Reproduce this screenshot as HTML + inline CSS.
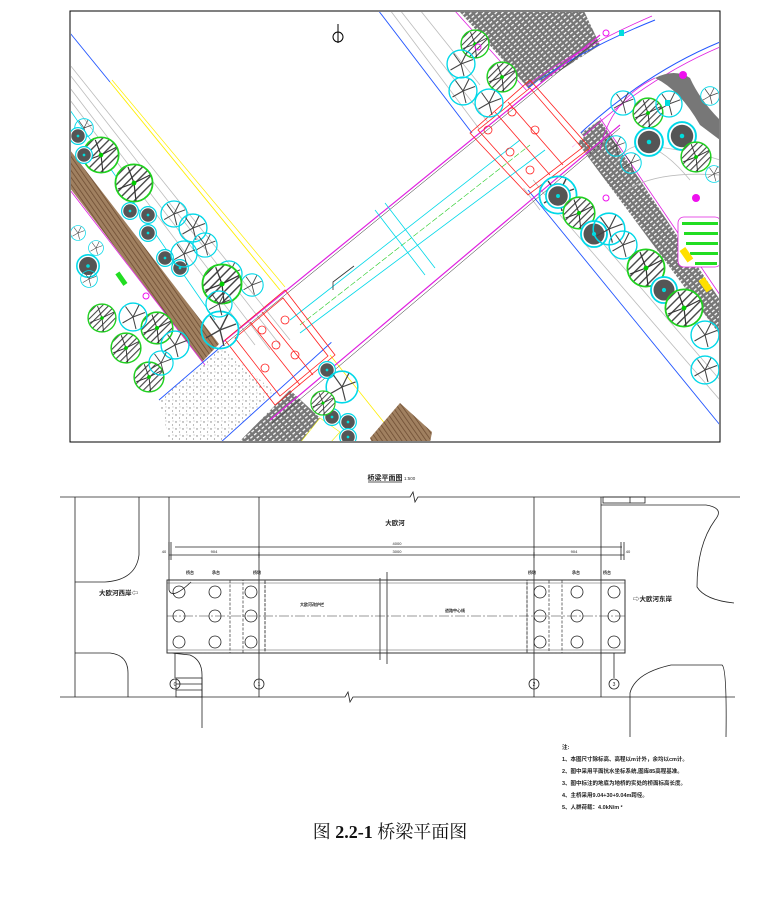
<!DOCTYPE html>
<html><head><meta charset="utf-8"><style>
html,body{margin:0;padding:0;background:#fff;}
svg{display:block}
text{font-family:"Liberation Sans","Noto Sans CJK SC",sans-serif;}
.cap{font-family:"Liberation Serif","Noto Serif CJK SC",serif;}
</style></head><body>
<svg width="781" height="917" viewBox="0 0 781 917" xmlns="http://www.w3.org/2000/svg">
<defs>
<pattern id="hatch" width="3" height="3" patternUnits="userSpaceOnUse" patternTransform="rotate(45)"><rect width="3" height="3" fill="#fff"/><line x1="0" y1="0" x2="0" y2="3" stroke="#444" stroke-width="1.4"/></pattern>
<pattern id="brown" width="4" height="4" patternUnits="userSpaceOnUse" patternTransform="rotate(-35)"><rect width="4" height="4" fill="#a08060"/><line x1="0" y1="0" x2="0" y2="4" stroke="#6b4a30" stroke-width="1.5"/></pattern>
<pattern id="cross" width="5" height="4" patternUnits="userSpaceOnUse" patternTransform="rotate(-40)"><rect width="5" height="4" fill="#777"/><rect x="0" y="0" width="3" height="1.3" fill="#fff"/></pattern>
<pattern id="dots" width="7" height="7" patternUnits="userSpaceOnUse"><circle cx="1" cy="2" r="0.7" fill="#777"/><circle cx="4.5" cy="5" r="0.6" fill="#888"/><circle cx="5" cy="1" r="0.5" fill="#999"/></pattern>
<symbol id="sp" viewBox="-10 -10 20 20"><circle r="9.3" fill="none" stroke="#00d8e8" stroke-width="0.9"/><g stroke="#444" stroke-width="0.7"><line x1="0" y1="0" x2="8" y2="-3"/><line x1="0" y1="0" x2="2" y2="8"/><line x1="0" y1="0" x2="-7" y2="4"/><line x1="0" y1="0" x2="-5" y2="-7"/><line x1="0" y1="0" x2="4" y2="-8"/></g></symbol>
<symbol id="hg" viewBox="-10 -10 20 20"><circle r="9.3" fill="url(#hatch)" stroke="#20d020" stroke-width="0.9"/><g stroke="#333" stroke-width="0.6"><line x1="0" y1="0" x2="8" y2="-4"/><line x1="0" y1="0" x2="1" y2="9"/><line x1="0" y1="0" x2="-8" y2="3"/><line x1="0" y1="0" x2="-3" y2="-8"/></g><circle r="1.2" fill="#0c0"/></symbol>
<symbol id="dk" viewBox="-10 -10 20 20"><circle r="9.3" fill="#fff" stroke="#00d8e8" stroke-width="1.3"/><circle r="7.5" fill="#555"/><circle r="1.5" fill="#0dd"/></symbol>
</defs>

<rect x="70" y="11" width="650" height="431" fill="#fff" stroke="#000" stroke-width="1"/>
<clipPath id="c1"><rect x="71" y="12" width="648" height="429"/></clipPath>
<g clip-path="url(#c1)">
<g stroke="#bbb" stroke-width="0.8" fill="none">
<line x1="70" y1="65" x2="290" y2="340"/><line x1="70" y1="75" x2="280" y2="345"/><line x1="70" y1="88" x2="270" y2="350"/>
<line x1="70" y1="100" x2="255" y2="345"/>
</g>
<line x1="70" y1="33" x2="110" y2="82" stroke="#2255ff" stroke-width="0.9"/>
<line x1="110" y1="82" x2="280" y2="290" stroke="#ffee00" stroke-width="0.9"/>
<line x1="112" y1="80" x2="285" y2="287" stroke="#ffee00" stroke-width="0.7"/>
<line x1="70" y1="110" x2="215" y2="320" stroke="#00d8e8" stroke-width="0.8"/>
<polygon points="70,150 70,188 202,362 219,344" fill="url(#brown)"/>
<line x1="70" y1="190" x2="205" y2="365" stroke="#e020e0" stroke-width="0.8"/>
<polygon points="159,400 223,347 275,393 219,443 170,443" fill="url(#dots)"/>
<line x1="159" y1="400" x2="223" y2="345" stroke="#2255ff" stroke-width="0.9"/>
<polygon points="238,443 290,390 320,418 300,443" fill="url(#cross)"/>
<polygon points="300,443 320,418 340,432 330,443" fill="#fff" stroke="#ee0" stroke-width="0.6"/>
<line x1="220" y1="443" x2="345" y2="330" stroke="#2255ff" stroke-width="0.9"/>
<line x1="330" y1="355" x2="390" y2="430" stroke="#ffee00" stroke-width="0.8"/>
<polygon points="370,438 400,403 432,432 430,443 372,443" fill="url(#brown)"/>

<g stroke="#bbb" stroke-width="0.8" fill="none">
<line x1="390" y1="10" x2="540" y2="210"/><line x1="400" y1="10" x2="545" y2="195"/><line x1="420" y1="10" x2="480" y2="85"/>
<line x1="560" y1="215" x2="720" y2="400"/><line x1="570" y1="205" x2="720" y2="380"/>
</g>
<line x1="378" y1="10" x2="472" y2="133" stroke="#2255ff" stroke-width="0.9"/>
<line x1="528" y1="190" x2="720" y2="425" stroke="#2255ff" stroke-width="0.9"/>
<polygon points="459,11 584,11 600,45 530,90" fill="url(#cross)"/>
<line x1="455" y1="11" x2="528" y2="92" stroke="#e020e0" stroke-width="0.8"/>
<polygon points="574,138 600,120 720,300 720,335" fill="url(#cross)"/>
<line x1="600" y1="118" x2="720" y2="295" stroke="#e020e0" stroke-width="0.8"/>
<path d="M528,88 Q580,50 655,20" stroke="#2255ff" stroke-width="1" fill="none"/>
<path d="M526,86 Q578,48 652,16" stroke="#e020e0" stroke-width="0.8" fill="none"/>
<path d="M570,143 Q640,75 720,42" stroke="#2255ff" stroke-width="1" fill="none"/>
<path d="M572,147 Q642,80 720,47" stroke="#e020e0" stroke-width="0.8" fill="none"/>
<path d="M655,78 Q680,90 700,125 L720,140 L720,120 Q700,100 690,78 Q675,68 655,78Z" fill="#777"/>
<path d="M620,195 Q650,170 720,175 M615,165 Q640,120 690,180 M640,145 Q690,150 720,160" stroke="#bbb" stroke-width="0.8" fill="none"/>
<path d="M600,150 Q610,100 655,78" stroke="#e020e0" stroke-width="0.8" fill="none"/>
<rect x="678" y="217" width="43" height="50" rx="6" fill="#fff" stroke="#e020e0" stroke-width="0.8"/>
<g fill="#22dd22"><rect x="682" y="222" width="36" height="3"/><rect x="684" y="232" width="34" height="3"/><rect x="686" y="242" width="32" height="3"/><rect x="690" y="252" width="28" height="3"/><rect x="695" y="262" width="22" height="3"/></g>
<rect x="683" y="248" width="7" height="14" fill="#ffe000" transform="rotate(-35 686 255)"/>
<rect x="702" y="278" width="7" height="14" fill="#ffe000" transform="rotate(-35 705 285)"/>

<polygon points="287,285 539,80 584,137 335,347" fill="#fff"/>
<line x1="223" y1="342" x2="600" y2="35" stroke="#e020e0" stroke-width="1.2"/>
<line x1="225" y1="344" x2="600" y2="38" stroke="#222" stroke-width="0.5"/>
<line x1="270" y1="420" x2="620" y2="125" stroke="#e020e0" stroke-width="1.2"/>
<line x1="272" y1="423" x2="620" y2="128" stroke="#222" stroke-width="0.5"/>
<line x1="290" y1="320" x2="520" y2="140" stroke="#00d8e8" stroke-width="0.8"/>
<line x1="300" y1="333" x2="545" y2="150" stroke="#00d8e8" stroke-width="0.8"/>
<line x1="300" y1="325" x2="530" y2="145" stroke="#22cc22" stroke-width="0.6" stroke-dasharray="6,2"/>
<line x1="375" y1="210" x2="425" y2="275" stroke="#00d8e8" stroke-width="0.8"/>
<line x1="385" y1="203" x2="435" y2="268" stroke="#00d8e8" stroke-width="0.8"/>
<polyline points="333,290 333,282 354,266" fill="none" stroke="#333" stroke-width="0.8"/>
<g stroke="#ff2020" stroke-width="0.8" fill="none">
<polygon points="225,340 285,290 335,355 275,405"/>
<polygon points="235,338 283,298 328,356 280,396"/>
<line x1="250" y1="322" x2="300" y2="385"/><line x1="262" y1="312" x2="313" y2="375"/>
<circle cx="262" cy="330" r="4"/><circle cx="276" cy="345" r="4"/><circle cx="295" cy="355" r="4"/><circle cx="265" cy="368" r="4"/><circle cx="285" cy="320" r="4"/>
<polygon points="470,133 530,80 590,148 528,195"/>
<polygon points="478,130 530,88 582,148 530,188"/>
<line x1="495" y1="112" x2="550" y2="175"/><line x1="508" y1="102" x2="563" y2="165"/>
<circle cx="488" cy="130" r="4"/><circle cx="510" cy="152" r="4"/><circle cx="530" cy="170" r="4"/><circle cx="535" cy="130" r="4"/><circle cx="512" cy="112" r="4"/>
</g>
<circle cx="338" cy="37" r="5" fill="#fff" stroke="#000" stroke-width="1"/><line x1="338" y1="24" x2="338" y2="43" stroke="#000" stroke-width="1"/>

<use href="#sp" x="74" y="118" width="20" height="20"/><use href="#sp" x="88" y="138" width="22" height="22"/>
<use href="#hg" x="82" y="136" width="38" height="38"/><use href="#hg" x="114" y="163" width="40" height="40"/>
<use href="#dk" x="69" y="127" width="18" height="18"/><use href="#dk" x="75" y="146" width="18" height="18"/>
<use href="#dk" x="121" y="202" width="18" height="18"/><use href="#dk" x="139" y="206" width="18" height="18"/><use href="#dk" x="139" y="224" width="18" height="18"/>
<use href="#dk" x="156" y="249" width="18" height="18"/><use href="#dk" x="171" y="259" width="18" height="18"/><use href="#dk" x="76" y="254" width="24" height="24"/>
<use href="#sp" x="160" y="200" width="28" height="28"/><use href="#sp" x="178" y="213" width="30" height="30"/><use href="#sp" x="192" y="232" width="26" height="26"/>
<use href="#sp" x="170" y="240" width="28" height="28"/><use href="#sp" x="215" y="260" width="28" height="28"/><use href="#sp" x="240" y="273" width="24" height="24"/>
<use href="#sp" x="70" y="225" width="16" height="16"/><use href="#sp" x="88" y="240" width="16" height="16"/><use href="#sp" x="80" y="270" width="18" height="18"/>
<use href="#hg" x="201" y="263" width="42" height="42"/>
<use href="#hg" x="87" y="303" width="30" height="30"/><use href="#hg" x="140" y="311" width="34" height="34"/><use href="#hg" x="110" y="332" width="32" height="32"/><use href="#hg" x="133" y="361" width="32" height="32"/>
<use href="#sp" x="118" y="302" width="30" height="30"/><use href="#sp" x="160" y="330" width="30" height="30"/><use href="#sp" x="148" y="350" width="26" height="26"/>
<use href="#sp" x="200" y="310" width="40" height="40"/><use href="#sp" x="205" y="290" width="28" height="28"/>
<rect x="119" y="272" width="5" height="14" fill="#22dd22" transform="rotate(-35 121 279)"/>
<use href="#hg" x="460" y="29" width="30" height="30"/><use href="#sp" x="446" y="49" width="30" height="30"/><use href="#hg" x="486" y="61" width="32" height="32"/>
<use href="#sp" x="448" y="76" width="30" height="30"/><use href="#sp" x="474" y="88" width="30" height="30"/>
<use href="#sp" x="538" y="175" width="40" height="40"/><use href="#dk" x="545" y="183" width="26" height="26"/>
<use href="#hg" x="562" y="196" width="34" height="34"/><use href="#dk" x="580" y="220" width="28" height="28"/><use href="#sp" x="592" y="212" width="34" height="34"/>
<use href="#sp" x="608" y="230" width="30" height="30"/><use href="#hg" x="626" y="248" width="40" height="40"/><use href="#dk" x="650" y="276" width="28" height="28"/>
<use href="#hg" x="664" y="288" width="40" height="40"/><use href="#sp" x="690" y="320" width="30" height="30"/><use href="#sp" x="690" y="355" width="30" height="30"/>
<use href="#sp" x="610" y="90" width="26" height="26"/><use href="#hg" x="632" y="97" width="32" height="32"/><use href="#sp" x="655" y="90" width="28" height="28"/>
<use href="#dk" x="634" y="127" width="30" height="30"/><use href="#dk" x="667" y="121" width="30" height="30"/><use href="#hg" x="680" y="141" width="32" height="32"/>
<use href="#sp" x="605" y="135" width="22" height="22"/><use href="#sp" x="620" y="152" width="22" height="22"/><use href="#sp" x="705" y="165" width="18" height="18"/>
<use href="#sp" x="700" y="86" width="20" height="20"/>
<use href="#dk" x="318" y="361" width="18" height="18"/><use href="#dk" x="323" y="408" width="18" height="18"/><use href="#dk" x="339" y="413" width="18" height="18"/><use href="#dk" x="339" y="428" width="18" height="18"/>
<use href="#sp" x="325" y="370" width="34" height="34"/><use href="#hg" x="310" y="390" width="26" height="26"/>
<g fill="#ee10ee"><circle cx="683" cy="75" r="4"/><circle cx="696" cy="198" r="4"/></g>
<g fill="none" stroke="#ee10ee" stroke-width="1"><circle cx="146" cy="296" r="3"/><circle cx="478" cy="47" r="3"/><circle cx="606" cy="33" r="3"/><circle cx="606" cy="198" r="3"/></g>
<rect x="619" y="30" width="5" height="6" fill="#0dd"/><rect x="665" y="100" width="5" height="6" fill="#0dd"/>
</g>

<text x="385" y="480" font-size="7" font-weight="bold" text-anchor="middle" fill="#222">桥梁平面图</text>
<line x1="368" y1="482" x2="402" y2="482" stroke="#222" stroke-width="0.7"/>
<text x="404" y="480" font-size="4.5" fill="#333">1:500</text>

<g stroke="#222" stroke-width="0.8" fill="none">
<polyline points="60,497 410,497 413,492 415,502 418,497 740,497"/>
<polyline points="60,697 345,697 348,692 350,702 353,697 735,697"/>
<line x1="75" y1="497" x2="75" y2="697"/>
<line x1="259" y1="497" x2="259" y2="697"/>
<line x1="534" y1="497" x2="534" y2="697"/>
<line x1="601" y1="497" x2="601" y2="697"/>
<path d="M139,497 L139,555 Q136,580 105,582 L75,582"/>
<path d="M169,497 L169,590 Q172,600 191,582"/>
<path d="M75,653 L110,653 Q128,655 128,673 L128,697"/>
<path d="M171,653 L190,655 Q202,660 202,675 L202,728"/>
<rect x="176" y="678" width="26" height="19"/>
<line x1="176" y1="684" x2="202" y2="684"/><line x1="176" y1="690" x2="202" y2="690"/>
<rect x="603" y="497" width="42" height="6"/><line x1="630" y1="497" x2="630" y2="503"/>
<path d="M601,505 L706,505 Q725,508 715,520 Q697,545 697,587 Q705,600 734,603"/>
<path d="M630,737 L630,693 Q635,673 671,665 L722,665 Q727,668 726,737"/>
<line x1="175" y1="547" x2="622" y2="547"/>
<line x1="169" y1="555" x2="624" y2="555"/>
<line x1="169" y1="542" x2="169" y2="560"/><line x1="171" y1="542" x2="171" y2="560"/>
<line x1="624" y1="542" x2="624" y2="560"/><line x1="621" y1="542" x2="621" y2="560"/>
<line x1="259" y1="552" x2="259" y2="558"/><line x1="534" y1="552" x2="534" y2="558"/>
<line x1="380" y1="578" x2="380" y2="660"/>
<line x1="387" y1="572" x2="387" y2="664"/>
</g>
<g font-size="4" fill="#222" text-anchor="middle">
<text x="397" y="545">4000</text><text x="214" y="553">904</text><text x="397" y="553">3000</text><text x="574" y="553">904</text>
<text x="164" y="553">40</text><text x="628" y="553">40</text>
</g>
<rect x="167" y="580" width="458" height="73" fill="none" stroke="#333" stroke-width="1"/>
<line x1="167" y1="583" x2="625" y2="583" stroke="#555" stroke-width="0.5"/>
<line x1="167" y1="650" x2="625" y2="650" stroke="#555" stroke-width="0.5"/>
<line x1="167" y1="616" x2="625" y2="616" stroke="#333" stroke-width="0.6" stroke-dasharray="10,2,2,2"/>
<g fill="none" stroke="#333" stroke-width="0.7" stroke-dasharray="3,1.5">
<rect x="167" y="580" width="98" height="73"/><line x1="230" y1="580" x2="230" y2="653"/><rect x="243" y="580" width="22" height="73"/>
<rect x="527" y="580" width="98" height="73"/><line x1="562" y1="580" x2="562" y2="653"/><rect x="527" y="580" width="22" height="73"/>
</g>
<g fill="none" stroke="#222" stroke-width="0.8">
<circle cx="179" cy="592" r="6"/><circle cx="215" cy="592" r="6"/><circle cx="251" cy="592" r="6"/>
<circle cx="179" cy="616" r="6"/><circle cx="215" cy="616" r="6"/><circle cx="251" cy="616" r="6"/>
<circle cx="179" cy="642" r="6"/><circle cx="215" cy="642" r="6"/><circle cx="251" cy="642" r="6"/>
<circle cx="540" cy="592" r="6"/><circle cx="577" cy="592" r="6"/><circle cx="614" cy="592" r="6"/>
<circle cx="540" cy="616" r="6"/><circle cx="577" cy="616" r="6"/><circle cx="614" cy="616" r="6"/>
<circle cx="540" cy="642" r="6"/><circle cx="577" cy="642" r="6"/><circle cx="614" cy="642" r="6"/>
<line x1="175" y1="653" x2="175" y2="678"/><line x1="614" y1="653" x2="614" y2="678"/>
<circle cx="175" cy="684" r="5"/><circle cx="259" cy="684" r="5"/><circle cx="534" cy="684" r="5"/><circle cx="614" cy="684" r="5"/>
</g>
<g font-size="5" fill="#222" text-anchor="middle"><text x="175" y="686">0</text><text x="259" y="686">1</text><text x="534" y="686">2</text><text x="614" y="686">3</text></g>
<g font-size="4" fill="#222" font-weight="bold">
<text x="186" y="574">桥台</text><text x="212" y="574">承台</text><text x="253" y="574">桥墩</text>
<text x="528" y="574">桥墩</text><text x="572" y="574">承台</text><text x="603" y="574">桥台</text>
<text x="300" y="606">大欧河改护栏</text><text x="445" y="612">道路中心线</text>
</g>
<text x="395" y="525" font-size="6.5" font-weight="bold" fill="#222" text-anchor="middle">大欧河</text>
<text x="99" y="595" font-size="6.5" font-weight="bold" fill="#222">大欧河西岸⇦</text>
<text x="633" y="601" font-size="6.5" font-weight="bold" fill="#222">⇨大欧河东岸</text>

<g font-size="5.5" fill="#222" font-weight="bold">
<text x="562" y="749">注:</text>
<text x="562" y="761">1、本图尺寸除标高、高程以m计外，余均以cm计。</text>
<text x="562" y="773">2、图中采用平面抗水坐标系统,图库85高程基准。</text>
<text x="562" y="785">3、图中标注的地底为地桥的实处的桥面标高长度。</text>
<text x="562" y="797">4、主桥采用9.04+30+9.04m跨径。</text>
<text x="562" y="809">5、人群荷载：4.0kN/m ²</text>
</g>

<text class="cap" x="390" y="838" font-size="18" fill="#111" text-anchor="middle">图 <tspan font-weight="bold">2.2-1</tspan>  桥梁平面图</text>
</svg>
</body></html>
